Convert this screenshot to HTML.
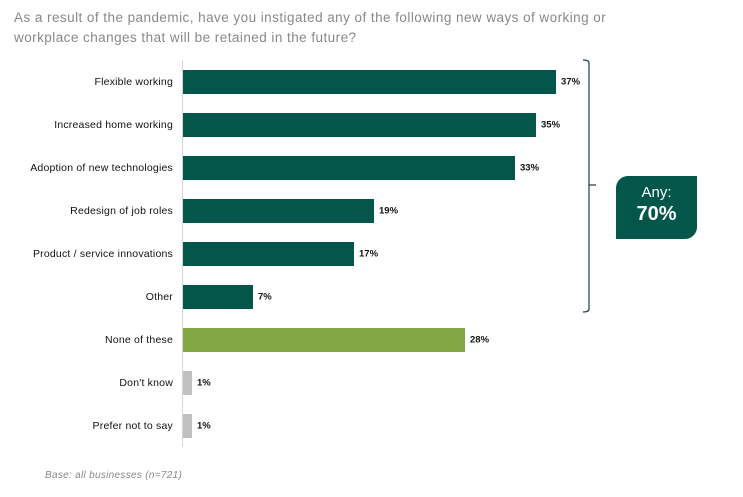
<!DOCTYPE html>
<html><head><style>
body{margin:0;background:#fff;width:743px;height:497px;overflow:hidden;font-family:"Liberation Sans",Arial,sans-serif;position:relative}
.t{position:absolute;left:14px;top:8px;font-size:13.5px;color:#888;line-height:20px;letter-spacing:0.45px;white-space:nowrap}
.l{position:absolute;right:570px;font-size:10.5px;color:#111;white-space:nowrap;transform:translateY(-50%);letter-spacing:0.2px}
.b{position:absolute;left:183px;height:24px}
.v{position:absolute;font-size:9.5px;font-weight:bold;color:#111;transform:translateY(-50%)}
.f{position:absolute;left:45px;top:470px;font-size:10px;font-style:italic;color:#888;letter-spacing:0.3px}
</style></head><body>
<div class="t">As a result of the pandemic, have you instigated any of the following new ways of working or<br>workplace changes that will be retained in the future?</div>
<div style="position:absolute;left:182px;top:60px;width:1px;height:387px;background:#d8d8d8"></div>

<div class="l" style="top:82px">Flexible working</div><div class="b" style="top:70px;width:373px;background:#03574a"></div><div class="v" style="left:561px;top:82px">37%</div>
<div class="l" style="top:125px">Increased home working</div><div class="b" style="top:113px;width:353px;background:#03574a"></div><div class="v" style="left:541px;top:125px">35%</div>
<div class="l" style="top:168px">Adoption of new technologies</div><div class="b" style="top:156px;width:332px;background:#03574a"></div><div class="v" style="left:520px;top:168px">33%</div>
<div class="l" style="top:211px">Redesign of job roles</div><div class="b" style="top:199px;width:191px;background:#03574a"></div><div class="v" style="left:379px;top:211px">19%</div>
<div class="l" style="top:254px">Product / service innovations</div><div class="b" style="top:242px;width:171px;background:#03574a"></div><div class="v" style="left:359px;top:254px">17%</div>
<div class="l" style="top:297px">Other</div><div class="b" style="top:285px;width:70px;background:#03574a"></div><div class="v" style="left:258px;top:297px">7%</div>
<div class="l" style="top:340px">None of these</div><div class="b" style="top:328px;width:282px;background:#82a846"></div><div class="v" style="left:470px;top:340px">28%</div>
<div class="l" style="top:383px">Don't know</div><div class="b" style="top:371px;width:9px;background:#c0c0c0"></div><div class="v" style="left:197px;top:383px">1%</div>
<div class="l" style="top:426px">Prefer not to say</div><div class="b" style="top:414px;width:9px;background:#c0c0c0"></div><div class="v" style="left:197px;top:426px">1%</div>

<svg style="position:absolute;left:0;top:0" width="743" height="497">
<path d="M583 60 Q589 60 589 63 L589 309 Q589 312 583 312" fill="none" stroke="#1f3a4a" stroke-width="1.2"/>
<path d="M589 185 L596 185" stroke="#1f3a4a" stroke-width="1.2"/>
</svg>
<div style="position:absolute;left:616px;top:176px;width:81px;height:63px;background:#03574a;border-radius:12px 0 12px 0;color:#fff;text-align:center">
<div style="font-size:15px;margin-top:8px;line-height:18px">Any:</div>
<div style="font-size:20px;font-weight:bold;line-height:24px">70%</div>
</div>
<div class="f">Base: all businesses (n=721)</div>
</body></html>
